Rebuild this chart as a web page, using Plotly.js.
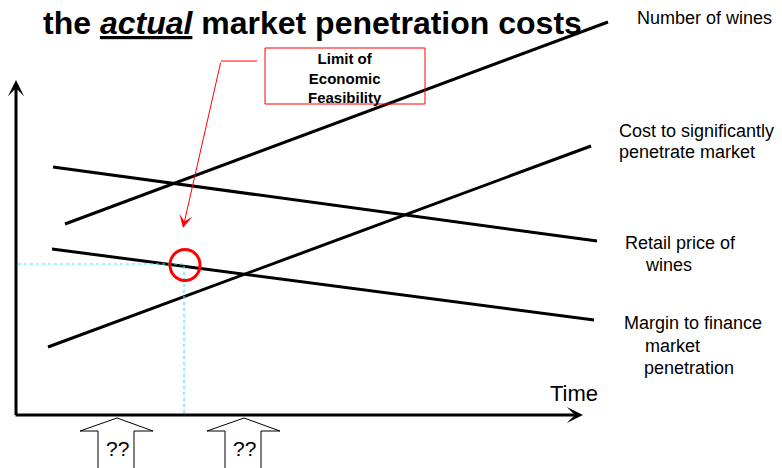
<!DOCTYPE html>
<html>
<head>
<meta charset="utf-8">
<script src="https://cdn.plot.ly/plotly-3.0.1.min.js"></script>
<style>html,body{margin:0;padding:0;background:#fff;}#chart{width:782px;height:468px;}</style>
</head>
<body>
<div id="chart"></div>
<script>
// Conceptual lines (time, value) endpoints
const lineNames = ['Number of wines', 'Cost to significantly penetrate market', 'Retail price of wines', 'Margin to finance market penetration'];
const startTime = [49, 32, 37, 36];
const endTime = [592, 575, 581, 578];
const startValue = [191, 68, 248, 166];
const endValue = [393, 269, 174, 95];

// Line labels (each row of text)
const labelText = ['Number of wines', 'Cost to significantly', 'penetrate market', 'Retail price of', 'wines', 'Margin to finance', 'market', 'penetration'];
const labelTime = [619, 601, 601, 607, 627, 606, 627, 626];
const labelValue = [397, 284, 263, 172, 150, 92, 69, 47];

// Limit of economic feasibility point
const limitTime = [169];
const limitValue = [150];

// Unknown times marked on the time axis
const markTime = [101, 228];
const markText = ['??', '??'];

const FONT = 'Arial, "Liberation Sans", sans-serif';

const traces = lineNames.map((n, i) => ({
  type: 'scatter', mode: 'lines', name: n,
  x: [startTime[i], endTime[i]],
  y: [startValue[i], endValue[i]],
  line: { color: '#000', width: 3 },
  hoverinfo: 'name'
}));

const shapes = [];
const annotations = [];

// Cyan guides to the limit point
shapes.push({ type: 'line', xref: 'x', yref: 'y', x0: 2, x1: limitTime[0], y0: limitValue[0] + 1, y1: limitValue[0] + 1, line: { color: '#4DE3E8', width: 1.2, dash: 'dot' } });
shapes.push({ type: 'line', xref: 'x', yref: 'y', x0: limitTime[0] - 1, x1: limitTime[0] - 1, y0: limitValue[0] - 1, y1: 1, line: { color: '#4DE3E8', width: 1.2, dash: 'dot' } });
// Red circle
shapes.push({ type: 'circle', xref: 'x', yref: 'y', x0: limitTime[0] - 15, x1: limitTime[0] + 15, y0: limitValue[0] - 15.5, y1: limitValue[0] + 15.5, line: { color: '#FF0000', width: 3 } });
// Callout box
shapes.push({ type: 'rect', xref: 'x', yref: 'y', x0: 249, x1: 409, y0: 311, y1: 367, line: { color: '#FF0000', width: 1 }, fillcolor: 'rgba(255,255,255,0)' });
shapes.push({ type: 'line', xref: 'x', yref: 'y', x0: 205, x1: 241, y0: 354, y1: 354, line: { color: '#FF0000', width: 1 } });

// Block arrows below the time axis
markTime.forEach(t => {
  const sL = t - 19, sR = t + 17, hL = t - 37, hR = t + 36;
  shapes.push({ type: 'path', xref: 'x', yref: 'y',
    path: `M${sL},-70 L${sL},-16 L${hL},-16 L${t},-3 L${hR},-16 L${sR},-16 L${sR},-70`,
    line: { color: '#000', width: 1 }, fillcolor: '#fff' });
});

// Axes with arrows
annotations.push({ xref: 'x', yref: 'y', axref: 'x', ayref: 'y', x: 567, y: 0, ax: -2, ay: 0, text: '', showarrow: true, arrowhead: 3, arrowsize: 0.9, arrowwidth: 3, arrowcolor: '#000', standoff: 0, startstandoff: 0 });
annotations.push({ xref: 'x', yref: 'y', axref: 'x', ayref: 'y', x: 0, y: 335, ax: 0, ay: -1.5, text: '', showarrow: true, arrowhead: 3, arrowsize: 0.9, arrowwidth: 3, arrowcolor: '#000', standoff: 0, startstandoff: 0 });
// Red callout arrow
annotations.push({ xref: 'x', yref: 'y', axref: 'x', ayref: 'y', x: 167, y: 187, ax: 205, ay: 354, text: '', showarrow: true, arrowhead: 3, arrowsize: 2.2, arrowwidth: 1, arrowcolor: '#FF0000', standoff: 0, startstandoff: 0 });

// Title
annotations.push({ xref: 'x', yref: 'y', x: 296, y: 392, text: '<b>the <i><u>actual</u></i> market penetration costs</b>', showarrow: false, xanchor: 'center', yanchor: 'middle', font: { family: FONT, size: 32, color: '#000' } });
// Callout text
annotations.push({ xref: 'x', yref: 'y', x: 329, y: 337, text: '<b>Limit of<br>Economic<br>Feasibility</b>', showarrow: false, xanchor: 'center', yanchor: 'middle', align: 'center', font: { family: FONT, size: 15, color: '#000' } });
// Line labels
labelText.forEach((s, i) => annotations.push({ xref: 'x', yref: 'y', x: labelTime[i], y: labelValue[i], text: s, showarrow: false, xanchor: 'left', yanchor: 'middle', font: { family: FONT, size: 18, color: '#000' } }));
// Time label
annotations.push({ xref: 'x', yref: 'y', x: 532, y: 21.5, text: 'Time', showarrow: false, xanchor: 'left', yanchor: 'middle', font: { family: FONT, size: 22, color: '#000' } });
// ?? marks
markTime.forEach((t, i) => annotations.push({ xref: 'x', yref: 'y', x: t, y: -33, text: markText[i], showarrow: false, xanchor: 'center', yanchor: 'middle', font: { family: FONT, size: 21, color: '#000' } }));

const layout = {
  width: 782, height: 468,
  margin: { l: 0, r: 0, t: 0, b: 0, pad: 0 },
  paper_bgcolor: '#fff', plot_bgcolor: '#fff',
  showlegend: false,
  xaxis: { range: [-16, 766], visible: false, fixedrange: true },
  yaxis: { range: [-53, 415], visible: false, fixedrange: true },
  shapes: shapes,
  annotations: annotations
};

Plotly.newPlot('chart', traces, layout, { displayModeBar: false, staticPlot: true });
</script>
</body>
</html>
